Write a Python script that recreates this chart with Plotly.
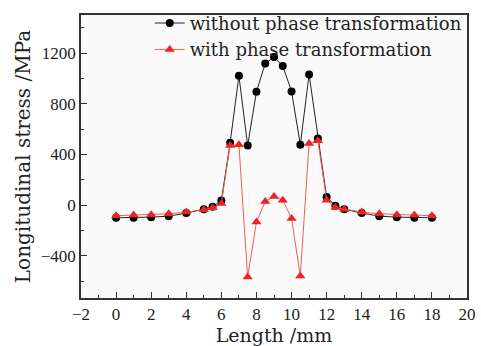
import plotly.graph_objects as go

length_mm = [0, 1, 2, 3, 4, 5, 5.5, 6, 6.5, 7, 7.5, 8, 8.5, 9, 9.5, 10, 10.5, 11, 11.5, 12, 12.5, 13, 14, 15, 16, 17, 18]
stress_without = [-100, -100, -95, -87, -63, -32, -13, 37, 492, 1020, 470, 894, 1118, 1168, 1097, 897, 476, 1031, 526, 63, -5, -32, -63, -87, -95, -100, -100]
stress_with = [-84, -79, -76, -68, -55, -37, -21, 13, 471, 476, -568, -134, 29, 68, 39, -105, -560, 487, 508, 39, -18, -32, -55, -68, -76, -79, -84]

x_ticks = [-2, 0, 2, 4, 6, 8, 10, 12, 14, 16, 18, 20]
y_ticks = [-400, 0, 400, 800, 1200]

FONT = "DejaVu Serif"
TICKFONT = "Liberation Serif"

fig = go.Figure()
fig.add_trace(go.Scatter(
    x=length_mm, y=stress_without, mode="lines+markers",
    name="without phase transformation",
    line=dict(color="#222222", width=1),
    marker=dict(symbol="circle", size=8, color="black"),
))
fig.add_trace(go.Scatter(
    x=length_mm, y=stress_with, mode="lines+markers",
    name="with phase transformation",
    line=dict(color="#f06050", width=1),
    marker=dict(symbol="triangle-up", size=9, color="#ee2222"),
))

axis_common = dict(
    showgrid=False, zeroline=False, showline=True, linecolor="#333333", linewidth=1.5,
    mirror=True, ticks="inside", ticklen=6, tickcolor="#333333",
    tickfont=dict(family=TICKFONT, size=17, color="#222222"),
)
fig.update_xaxes(
    range=[-2, 20], tickvals=x_ticks, ticktext=[str(v).replace("-", "\u2212") for v in x_ticks],
    minor=dict(dtick=1, ticks="inside", ticklen=3, tickcolor="#333333"),
    title=dict(text="Length /mm", font=dict(family=FONT, size=19, color="#222222"), standoff=0),
    **axis_common,
)
fig.update_yaxes(
    range=[-733, 1500], tickvals=y_ticks, ticktext=[str(v).replace("-", "\u2212") for v in y_ticks],
    minor=dict(tickvals=[-600, -200, 200, 600, 1000, 1400], ticks="inside", ticklen=3, tickcolor="#333333"),
    title=dict(text="Longitudinal stress /MPa", font=dict(family=FONT, size=20, color="#222222"), standoff=5),
    **axis_common,
)
fig.update_layout(
    width=481, height=346,
    margin=dict(l=81, r=14, t=15, b=48, autoexpand=False),
    paper_bgcolor="white", plot_bgcolor="#fafafa",
    showlegend=True,
    legend=dict(x=0.178, y=1.036, xanchor="left", yanchor="top",
                bgcolor="rgba(0,0,0,0)", borderwidth=0,
                font=dict(family=FONT, size=18, color="#222222"),
                tracegroupgap=0),
)
fig.write_html("out.html")
